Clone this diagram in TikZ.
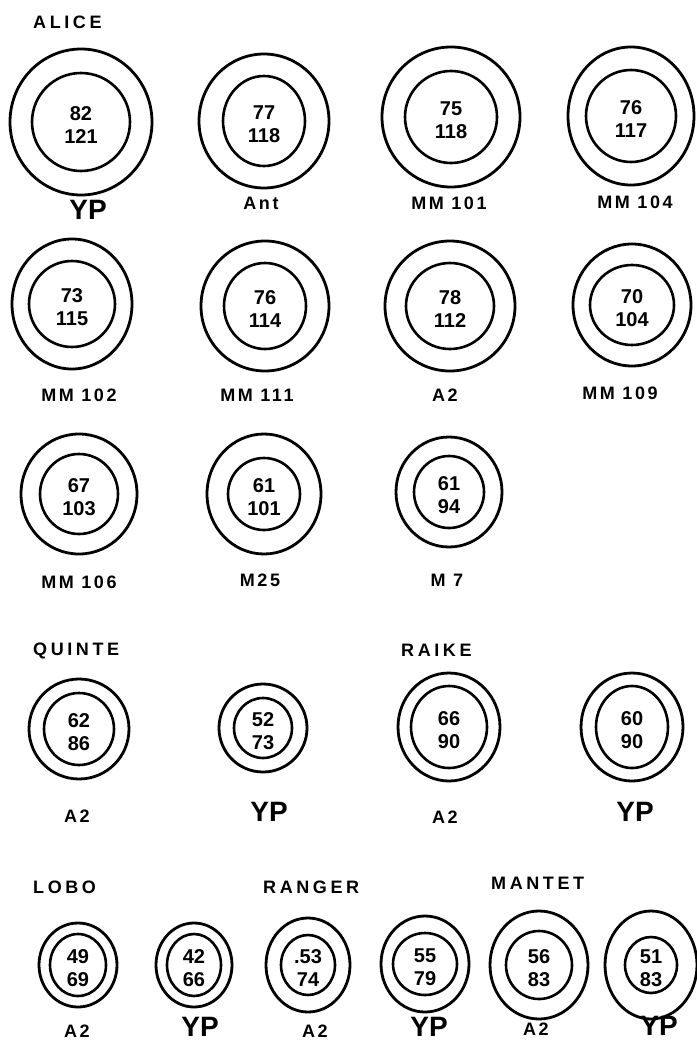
\documentclass[tikz,border=0pt]{standalone}
\usepackage{fontspec}
\setmainfont{Liberation Sans}
\newfontfamily\titlefont[LetterSpace=20]{Liberation Sans}
\newfontfamily\stockfont[LetterSpace=14]{Liberation Sans}
\usetikzlibrary{shapes.geometric}

\begin{document}
\begin{tikzpicture}[x=1pt, y=-1pt,
            ring/.style 2 args={ellipse, draw, line width=2.8pt, inner sep=0pt, minimum width=#1, minimum height=#2},
            core/.style 2 args={ellipse, draw, line width=2.6pt, inner sep=0pt, minimum width=#1, minimum height=#2},
            num/.style={yshift=-3pt, inner sep=0pt, align=center, font=\fontsize{20}{23}\selectfont\bfseries},
            title/.style={anchor=west, inner sep=0pt, font=\titlefont\fontsize{18}{20}\selectfont\bfseries},
            stock/.style={inner sep=0pt, font=\stockfont\fontsize{18}{20}\selectfont\bfseries},
            bigstock/.style={inner sep=0pt, font=\fontsize{28}{30}\selectfont\bfseries}
        ]
            \useasboundingbox (0,0) rectangle (696,1043);

            \node[title] (alice) at (33,22) {ALICE};
            \node[ring={142pt}{146pt}] (alice-yp) at (81,122) {};
            \node[core={98pt}{98pt}] (alice-yp-in) at (alice-yp) {};
            \node[num] (alice-yp-num) at (alice-yp) {82\\121};
            \node[bigstock] (alice-yp-lbl) at (88,210) {YP};
            \node[ring={130pt}{134pt}] (alice-ant) at (264,121) {};
            \node[core={82pt}{90pt}] (alice-ant-in) at (alice-ant) {};
            \node[num] (alice-ant-num) at (alice-ant) {77\\118};
            \node[stock] (alice-ant-lbl) at (261,203) {Ant};
            \node[ring={138pt}{140pt}] (alice-mm101) at (451,117) {};
            \node[core={92pt}{92pt}] (alice-mm101-in) at (alice-mm101) {};
            \node[num] (alice-mm101-num) at (alice-mm101) {75\\118};
            \node[stock] (alice-mm101-lbl) at (449,203) {MM 101};
            \node[ring={126pt}{138pt}] (alice-mm104) at (631,116) {};
            \node[core={90pt}{92pt}] (alice-mm104-in) at (alice-mm104) {};
            \node[num] (alice-mm104-num) at (alice-mm104) {76\\117};
            \node[stock] (alice-mm104-lbl) at (635,202) {MM 104};

            \node[ring={120pt}{130pt}] (alice-mm102) at (72,304) {};
            \node[core={86pt}{86pt}] (alice-mm102-in) at (alice-mm102) {};
            \node[num] (alice-mm102-num) at (alice-mm102) {73\\115};
            \node[stock] (alice-mm102-lbl) at (79,395) {MM 102};
            \node[ring={128pt}{130pt}] (alice-mm111) at (265,306) {};
            \node[core={82pt}{86pt}] (alice-mm111-in) at (alice-mm111) {};
            \node[num] (alice-mm111-num) at (alice-mm111) {76\\114};
            \node[stock] (alice-mm111-lbl) at (257,395) {MM 111};
            \node[ring={130pt}{130pt}] (alice-a2) at (450,306) {};
            \node[core={88pt}{86pt}] (alice-a2-in) at (alice-a2) {};
            \node[num] (alice-a2-num) at (alice-a2) {78\\112};
            \node[stock] (alice-a2-lbl) at (445,395) {A2};
            \node[ring={118pt}{122pt}] (alice-mm109) at (632,305) {};
            \node[core={84pt}{80pt}] (alice-mm109-in) at (alice-mm109) {};
            \node[num] (alice-mm109-num) at (alice-mm109) {70\\104};
            \node[stock] (alice-mm109-lbl) at (620,393) {MM 109};

            \node[ring={116pt}{120pt}] (alice-mm106) at (79,494) {};
            \node[core={78pt}{80pt}] (alice-mm106-in) at (alice-mm106) {};
            \node[num] (alice-mm106-num) at (alice-mm106) {67\\103};
            \node[stock] (alice-mm106-lbl) at (79,582) {MM 106};
            \node[ring={114pt}{120pt}] (alice-m25) at (264,494) {};
            \node[core={72pt}{72pt}] (alice-m25-in) at (alice-m25) {};
            \node[num] (alice-m25-num) at (alice-m25) {61\\101};
            \node[stock] (alice-m25-lbl) at (260,580) {M25};
            \node[ring={106pt}{110pt}] (alice-m7) at (449,492) {};
            \node[core={70pt}{72pt}] (alice-m7-in) at (alice-m7) {};
            \node[num] (alice-m7-num) at (alice-m7) {61\\94};
            \node[stock] (alice-m7-lbl) at (447,580) {M 7};

            \node[title] (quinte) at (33,651) {QUINTE};
            \node[ring={100pt}{100pt}] (quinte-a2) at (79,729) {};
            \node[core={70pt}{72pt}] (quinte-a2-in) at (quinte-a2) {};
            \node[num] (quinte-a2-num) at (quinte-a2) {62\\86};
            \node[stock] (quinte-a2-lbl) at (77,816) {A2};
            \node[ring={88pt}{88pt}] (quinte-yp) at (263,728) {};
            \node[core={58pt}{60pt}] (quinte-yp-in) at (quinte-yp) {};
            \node[num] (quinte-yp-num) at (quinte-yp) {52\\73};
            \node[bigstock] (quinte-yp-lbl) at (269,812) {YP};

            \node[title] (raike) at (401,650) {RAIKE};
            \node[ring={102pt}{108pt}] (raike-a2) at (449,727) {};
            \node[core={76pt}{82pt}] (raike-a2-in) at (raike-a2) {};
            \node[num] (raike-a2-num) at (raike-a2) {66\\90};
            \node[stock] (raike-a2-lbl) at (445,817) {A2};
            \node[ring={102pt}{108pt}] (raike-yp) at (632,727) {};
            \node[core={72pt}{82pt}] (raike-yp-in) at (raike-yp) {};
            \node[num] (raike-yp-num) at (raike-yp) {60\\90};
            \node[bigstock] (raike-yp-lbl) at (635,812) {YP};

            \node[title] (lobo) at (33,887) {LOBO};
            \node[ring={78pt}{84pt}] (lobo-a2) at (78,965) {};
            \node[core={56pt}{62pt}] (lobo-a2-in) at (lobo-a2) {};
            \node[num] (lobo-a2-num) at (lobo-a2) {49\\69};
            \node[stock] (lobo-a2-lbl) at (77,1031) {A2};
            \node[ring={76pt}{84pt}] (lobo-yp) at (194,965) {};
            \node[core={54pt}{62pt}] (lobo-yp-in) at (lobo-yp) {};
            \node[num] (lobo-yp-num) at (lobo-yp) {42\\66};
            \node[bigstock] (lobo-yp-lbl) at (200,1027) {YP};

            \node[title] (ranger) at (263,887) {RANGER};
            \node[ring={84pt}{94pt}] (ranger-a2) at (308,965) {};
            \node[core={54pt}{60pt}] (ranger-a2-in) at (ranger-a2) {};
            \node[num] (ranger-a2-num) at (ranger-a2) {.53\\74};
            \node[stock] (ranger-a2-lbl) at (315,1031) {A2};
            \node[ring={88pt}{96pt}] (ranger-yp) at (425,964) {};
            \node[core={64pt}{62pt}] (ranger-yp-in) at (ranger-yp) {};
            \node[num] (ranger-yp-num) at (ranger-yp) {55\\79};
            \node[bigstock] (ranger-yp-lbl) at (429,1027) {YP};

            \node[title] (mantet) at (491,883) {MANTET};
            \node[ring={98pt}{108pt}] (mantet-a2) at (539,965) {};
            \node[core={66pt}{68pt}] (mantet-a2-in) at (mantet-a2) {};
            \node[num] (mantet-a2-num) at (mantet-a2) {56\\83};
            \node[stock] (mantet-a2-lbl) at (536,1029) {A2};
            \node[ring={92pt}{108pt}] (mantet-yp) at (651,965) {};
            \node[core={52pt}{56pt}] (mantet-yp-in) at (mantet-yp) {};
            \node[num] (mantet-yp-num) at (mantet-yp) {51\\83};
            \node[bigstock] (mantet-yp-lbl) at (659,1026) {YP};
        \end{tikzpicture}
\end{document}
